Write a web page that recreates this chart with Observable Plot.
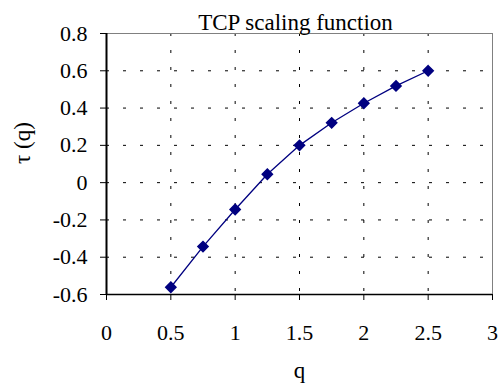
<!DOCTYPE html>
<html>
<head>
<meta charset="utf-8">
<script src="https://cdn.jsdelivr.net/npm/d3@7"></script>
<script src="https://cdn.jsdelivr.net/npm/@observablehq/plot@0.6"></script>
<style>
  html, body { margin: 0; padding: 0; background: #fff; }
</style>
</head>
<body>
<div id="chart"></div>
<script>
// TCP scaling function τ(q) sampled at q = 0.5 … 2.5
const q = [0.5, 0.75, 1, 1.25, 1.5, 1.75, 2, 2.25, 2.5];
const tau = [-0.561, -0.343, -0.144, 0.045, 0.2, 0.321, 0.426, 0.519, 0.6];
const xTicks = [0, 0.5, 1, 1.5, 2, 2.5, 3];
const yTicks = [-0.6, -0.4, -0.2, 0, 0.2, 0.4, 0.6, 0.8];
const title = "TCP scaling function";
const xLabel = "q";
const yLabel = "τ (q)";

const data = q.map((v, i) => ({q: v, tau: tau[i]}));
const fmt = d => String(+d.toFixed(1));
const navy = "#000080";
const dash = "3,14";
const serif = "Liberation Serif";

const chart = Plot.plot({
  width: 502,
  height: 390,
  marginLeft: 106,
  marginRight: 10,
  marginTop: 33,
  marginBottom: 96,
  style: {fontFamily: serif, fontSize: "22px", background: "white", color: "black"},
  x: {domain: [0, 3]},
  y: {domain: [-0.6, 0.8]},
  marks: [
    Plot.gridX(xTicks.slice(1, -1), {stroke: "black", strokeOpacity: 1, strokeDasharray: dash}),
    Plot.gridY(yTicks.slice(1), {stroke: "black", strokeOpacity: 1, strokeDasharray: dash}),
    Plot.frame({stroke: "#808080"}),
    Plot.axisY(yTicks, {tickSize: 6, tickPadding: 13, tickFormat: fmt, label: null, fontSize: 22, fontVariant: "normal"}),
    Plot.axisX(xTicks, {tickSize: 6, tickPadding: 24, tickFormat: fmt, label: null, fontSize: 22, fontVariant: "normal"}),
    Plot.ruleX([0], {stroke: "black", strokeWidth: 2}),
    Plot.ruleY([-0.6], {stroke: "black", strokeWidth: 1.5}),
    Plot.line(data, {x: "q", y: "tau", stroke: navy, strokeWidth: 1.3}),
    Plot.dot(data, {x: "q", y: "tau", symbol: "diamond2", r: 4.6, fill: navy, stroke: navy}),
    Plot.text([title], {frameAnchor: "top", dx: -4, dy: -20, fontSize: 23}),
    Plot.text([xLabel], {frameAnchor: "bottom", dy: 83, fontSize: 23}),
    Plot.text([yLabel], {frameAnchor: "left", dx: -84, rotate: -90, fontSize: 23})
  ]
});

// Serif face on every label, tick text included
d3.select(chart).selectAll("g, text").attr("font-family", serif).style("font-family", serif);

document.getElementById("chart").appendChild(chart);
</script>
</body>
</html>
